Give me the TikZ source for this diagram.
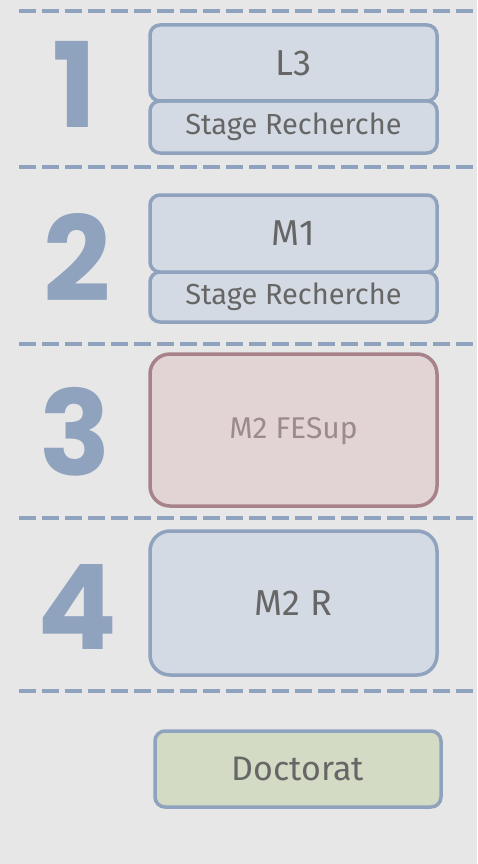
\documentclass[tikz,border=0pt]{standalone}
\usepackage{fontspec}
\setmainfont{Fira Sans}
\newfontfamily\digitfont{Poppins}
\definecolor{bgc}{HTML}{E7E7E7}
\definecolor{linec}{HTML}{8FA2BE}
\definecolor{bluefill}{HTML}{D4DAE3}
\definecolor{redline}{HTML}{A8828A}
\definecolor{redfill}{HTML}{E2D3D5}
\definecolor{greenfill}{HTML}{D3DBC4}
\definecolor{textc}{HTML}{666666}
\definecolor{redtext}{HTML}{9C8A8C}
\tikzset{
  sep/.style={draw=linec, line width=4.5pt, dash pattern=on 17pt off 6pt},
  yearbox/.style={draw=linec, line width=3.5pt, fill=bluefill, rounded corners=#1},
  yearbox/.default=10pt,
  lbl/.style={text=textc, font=\fontsize{36}{40}\selectfont},
  lblsmall/.style={text=textc, font=\fontsize{29}{32}\selectfont},
  digit/.style={text=linec, font=\digitfont\bfseries\fontsize{118}{120}\selectfont, inner sep=0pt}
}
\begin{document}
\begin{tikzpicture}[x=1pt,y=-1pt]
\useasboundingbox (0,0) rectangle (477,864);
\fill[bgc] (0,0) rectangle (477,864);
% separators
\foreach \yy/\nm in {11/s0,167/s1,344/s2,518/s3,691/s4}{
  \coordinate (\nm a) at (19,\yy);
  \coordinate (\nm b) at (477,\yy);
  \draw[sep] (\nm a) -- (\nm b);
}
% year 1
\draw[yearbox] (150,101) rectangle (437,153);
\draw[yearbox] (150,25) rectangle (437,101);
\node[lbl] (l3) at (293.5,63) {L3};
\node[lblsmall] (st1) at (293.5,127) {Stage Recherche};
\node[digit] (d1) at (75,84) {1};
% year 2
\draw[yearbox] (150,272) rectangle (437,322);
\draw[yearbox] (150,195) rectangle (437,272);
\node[lbl] (m1) at (293.5,233) {M1};
\node[lblsmall] (st2) at (293.5,297) {Stage Recherche};
\node[digit] (d2) at (77,257) {2};
% year 3
\draw[draw=redline, line width=3.5pt, fill=redfill, rounded corners=20pt] (150,354) rectangle (437,506);
\node[lblsmall, text=redtext, font=\fontsize{30}{33}\selectfont] (fes) at (293.5,431) {M2 FESup};
\node[digit] (d3) at (75,432) {3};
% year 4
\draw[yearbox=20pt] (150,531) rectangle (437,675);
\node[lbl] (m2r) at (293.5,603) {M2 R};
\node[digit] (d4) at (77,607) {4};
% doctorat
\draw[draw=linec, line width=3.5pt, fill=greenfill, rounded corners=10pt] (155,731) rectangle (441,807);
\node[lbl, font=\fontsize{34}{38}\selectfont] (doc) at (298,769) {Doctorat};
\end{tikzpicture}
\end{document}
